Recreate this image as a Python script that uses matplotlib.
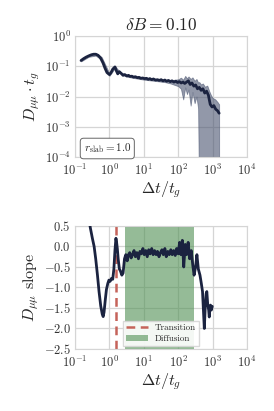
import matplotlib
matplotlib.use("Agg")
import matplotlib.pyplot as plt
import seaborn as sns
import numpy as np
from matplotlib.ticker import FuncFormatter, FixedLocator

# --- data ---
t_top = [0.15, 0.18, 0.21, 0.25, 0.3, 0.35, 0.4, 0.47, 0.55, 0.65, 0.75, 0.85, 1.0, 1.1,
         1.25, 1.45, 1.6, 1.75, 1.95, 2.2, 2.5, 2.8, 3.2, 3.6, 4.0, 4.5, 5, 5.7, 6.5, 7.3,
         8.2, 9.3, 10.5, 12, 13.5, 15, 17, 19, 22, 25, 28, 32, 36, 41, 46, 52, 59, 66, 75,
         85, 96, 108, 122, 138, 155, 175, 198, 223, 252, 285, 322, 364, 411, 464, 524, 592,
         669, 756, 854, 965, 1090, 1231, 1391, 1550]
D_top = [0.155, 0.18, 0.2, 0.22, 0.24, 0.25, 0.25, 0.23, 0.19, 0.13, 0.085, 0.062, 0.053, 0.06,
         0.08, 0.095, 0.07, 0.056, 0.066, 0.058, 0.05, 0.053, 0.048, 0.05, 0.046, 0.047, 0.044,
         0.045, 0.042, 0.043, 0.04, 0.041, 0.039, 0.04, 0.037, 0.039, 0.036, 0.038, 0.035,
         0.036, 0.034, 0.036, 0.033, 0.035, 0.032, 0.034, 0.031, 0.033, 0.03, 0.032, 0.029,
         0.031, 0.028, 0.03, 0.027, 0.03, 0.033, 0.025, 0.028, 0.022, 0.024, 0.018, 0.02,
         0.016, 0.018, 0.013, 0.015, 0.011, 0.0055, 0.0045, 0.005, 0.0038, 0.0034, 0.0028]

t_band = [0.15, 0.25, 0.4, 0.6, 1.0, 1.45, 2, 3, 5, 10, 20, 40, 60, 80, 100, 120, 140, 160,
          180, 200, 230, 260, 300, 340, 380, 411, 460, 520, 600, 700, 800, 900, 1000, 1200,
          1400, 1550]
D_lo = [0.145, 0.205, 0.225, 0.16, 0.048, 0.087, 0.06, 0.046, 0.041, 0.036, 0.033, 0.03, 0.027,
        0.024, 0.022, 0.018, 0.008, 0.02, 0.012, 0.017, 0.005, 0.014, 0.006, 0.01, 0.004,
        1e-6, 1e-6, 1e-6, 1e-6, 1e-6, 1e-6, 1e-6, 1e-6, 1e-6, 1e-6, 1e-6]
D_hi = [0.165, 0.24, 0.275, 0.2, 0.058, 0.102, 0.066, 0.053, 0.047, 0.042, 0.038, 0.035, 0.034,
        0.036, 0.037, 0.042, 0.036, 0.048, 0.04, 0.046, 0.038, 0.043, 0.033, 0.038, 0.029,
        0.03, 0.025, 0.027, 0.021, 0.023, 0.015, 0.011, 0.009, 0.008, 0.0065, 0.0055]

t_slope = [0.25, 0.28, 0.32, 0.36, 0.4, 0.45, 0.5, 0.56, 0.62, 0.66, 0.7, 0.76, 0.82, 0.9, 0.97,
           1.05, 1.15, 1.25, 1.35, 1.45, 1.55, 1.62, 1.7, 1.8, 1.95, 2.1, 2.3, 2.5, 2.75, 3.0,
           3.3, 3.6, 3.9, 4.3, 4.7, 5.2, 5.7, 6.3, 7, 7.7, 8.5, 9.4, 10.3, 11.4, 12.6, 13.9,
           15.3, 17, 18.7, 20.6, 22.8, 25, 27.7, 30.5, 33.7, 37, 41, 45, 50, 55, 61, 67, 74,
           82, 90, 100, 110, 120, 132, 145, 160, 175, 195, 215, 240, 265, 290, 320, 350, 385,
           430, 470, 510, 545, 575, 610, 650, 680, 720, 770, 800, 840, 870, 920, 980]
slope = [0.7, 0.45, 0.2, 0.0, -0.3, -0.7, -1.1, -1.45, -1.65, -1.71, -1.6, -1.3, -1.05, -0.9,
         -0.82, -0.85, -0.78, -0.8, -0.55, -0.1, 0.2, 0.1, -0.05, -0.3, -0.55, -0.6, -0.7,
         -0.65, -0.3, -0.2, -0.35, -0.2, -0.15, -0.28, -0.2, -0.1, -0.25, -0.15, -0.3, -0.12,
         -0.18, -0.05, -0.2, -0.1, -0.25, -0.08, -0.18, -0.05, -0.2, -0.1, -0.2, -0.12, -0.25,
         -0.15, -0.08, -0.2, -0.05, -0.25, -0.12, -0.2, -0.08, -0.2, -0.1, -0.22, -0.05, -0.18,
         0.1, -0.2, 0.15, -0.5, 0.05, -0.2, 0.1, -0.3, -0.1, -0.45, -0.7, -0.5, -0.2, -0.55,
         -0.7, -0.9, -1.1, -1.6, -2.0, -1.5, -1.15, -1.1, -1.4, -1.55, -1.72, -1.5, -1.43,
         -1.55, -1.46]

t_transition = 1.55
diffusion_range = (2.9, 290)

# --- style ---
sns.set_style("whitegrid")
plt.rcParams["font.family"] = "serif"
plt.rcParams["font.serif"] = ["cmr10"]
plt.rcParams["mathtext.fontset"] = "cm"
plt.rcParams["axes.formatter.use_mathtext"] = True
plt.rcParams["axes.unicode_minus"] = False

navy = "#1b2340"
grid_c = "#d5d5d5"

fig = plt.figure(figsize=(2.74, 4.11), dpi=100)
ax1 = fig.add_axes([0.2737, 0.618, 0.6277, 0.2944])
ax2 = fig.add_axes([0.2737, 0.1509, 0.6277, 0.2993])

for ax in (ax1, ax2):
    ax.set_xscale("log")
    ax.set_xlim(0.1, 1e4)
    ax.xaxis.set_major_locator(FixedLocator([1e-1, 1e0, 1e1, 1e2, 1e3, 1e4]))
    ax.xaxis.set_minor_locator(FixedLocator([]))
    ax.grid(True, color=grid_c, lw=0.9)
    for s in ax.spines.values():
        s.set_color(grid_c)
    ax.tick_params(labelsize=9, colors="#333333", length=0)
    ax.tick_params(axis="x", pad=4)
    ax.tick_params(axis="y", pad=3)
    ax.set_xlabel(r"$\Delta t / t_g$", fontsize=11.5, labelpad=1)

# top panel
ax1.fill_between(t_band, D_lo, D_hi, color="#4a5470", alpha=0.6, lw=0.6, zorder=2)
ax1.plot(t_top, D_top, color=navy, lw=2.0, zorder=3)
ax1.set_yscale("log")
ax1.set_ylim(1e-4, 1)
ax1.yaxis.set_major_locator(FixedLocator([1e-4, 1e-3, 1e-2, 1e-1, 1e0]))
ax1.yaxis.set_minor_locator(FixedLocator([]))
ax1.set_ylabel(r"$D_{\mu\mu}\cdot t_g$", fontsize=11.5, labelpad=2)
ax1.set_title(r"$\delta B = 0.10$", fontsize=12.5, pad=4)
ax1.text(0.05, 0.045, r"$r_{\rm slab} = 1.0$", transform=ax1.transAxes, fontsize=8,
         bbox=dict(boxstyle="round,pad=0.3", fc="white", ec="#666666", lw=0.7), zorder=5)

# bottom panel
ax2.axvspan(*diffusion_range, color="#4f8f52", alpha=0.6, lw=0, zorder=1.5, label="Diffusion")
ax2.axvline(t_transition, color="#c5635a", ls="--", lw=1.8, dashes=(3.5, 2.2), zorder=2,
            label="Transition")
ax2.plot(t_slope, slope, color=navy, lw=2.0, zorder=3)
ax2.set_ylim(-2.5, 0.5)
ax2.yaxis.set_major_locator(FixedLocator(np.arange(-2.5, 0.51, 0.5)))
ax2.yaxis.set_major_formatter(FuncFormatter(lambda v, p: f"${v:.1f}$"))
ax2.set_ylabel(r"$D_{\mu\mu}$ slope", fontsize=11.5, labelpad=2)
h, l = ax2.get_legend_handles_labels()
leg = ax2.legend(h[::-1], l[::-1], loc="lower center", fontsize=6.5, frameon=True,
                 fancybox=False, edgecolor=grid_c, framealpha=0.9, borderpad=0.35,
                 handlelength=2.4, labelspacing=0.25, borderaxespad=0.3)
leg.set_zorder(5)

fig.savefig("out.png", dpi=100)
